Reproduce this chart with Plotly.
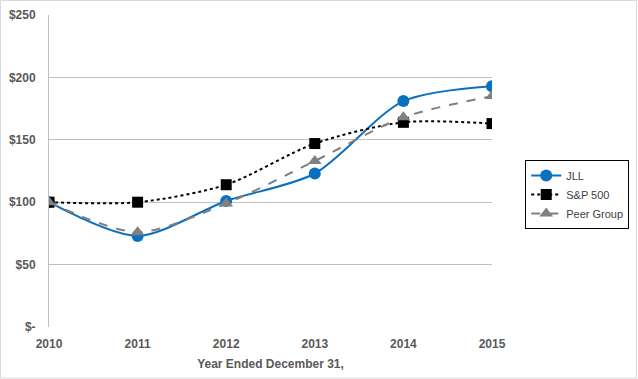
import plotly.graph_objects as go

years = [2010, 2011, 2012, 2013, 2014, 2015]
jll = [100, 73, 101, 123, 181, 193]
sp500 = [100, 100, 114, 147, 164, 163]
peer = [100, 76, 99, 133, 168, 185]
y_ticks = [0, 50, 100, 150, 200, 250]
y_tick_text = ["$-", "$50", "$100", "$150", "$200", "$250"]

font_family = "Liberation Sans, Arial, sans-serif"
txt_color = "#595959"

fig = go.Figure()
fig.add_trace(go.Scatter(x=years, y=jll, name="JLL", mode="lines+markers",
                         line=dict(color="#0A70C0", width=2, shape="spline", smoothing=0.8),
                         marker=dict(symbol="circle", size=12, color="#0A70C0")))
fig.add_trace(go.Scatter(x=years, y=sp500, name="S&P 500", mode="lines+markers",
                         line=dict(color="black", width=2, dash="dot", shape="spline", smoothing=0.8),
                         marker=dict(symbol="square", size=11, color="black")))
fig.add_trace(go.Scatter(x=years, y=peer, name="Peer Group", mode="lines+markers",
                         line=dict(color="#808080", width=2, dash="dash", shape="spline", smoothing=0.8),
                         marker=dict(symbol="triangle-up", size=12, color="#808080")))

fig.update_layout(
    width=638, height=379,
    margin=dict(l=49, r=146, t=15, b=52, autoexpand=False),
    paper_bgcolor="white", plot_bgcolor="white",
    font=dict(family=font_family, size=12, color=txt_color),
    xaxis=dict(range=[2010, 2015], tickvals=years, ticktext=["<b>%d</b>" % y for y in years],
               showgrid=False, zeroline=False, showline=False, automargin=False,
               ticks="outside", ticklen=6, tickcolor="rgba(0,0,0,0)",
               tickfont=dict(size=12, color=txt_color, family=font_family),
               title=dict(text="<b>Year Ended December 31,</b>", font=dict(size=12, color=txt_color), standoff=9)),
    yaxis=dict(range=[0, 250], tickvals=y_ticks, ticktext=["<b>" + t + "</b>" for t in y_tick_text],
               showgrid=True, gridcolor="#C0C0C0", gridwidth=1, zeroline=False, automargin=False,
               showline=True, linecolor="#C0C0C0", linewidth=1,
               ticks="outside", ticklen=10, tickcolor="rgba(0,0,0,0)",
               tickfont=dict(size=12, color=txt_color, family=font_family)),
    legend=dict(x=1.075, y=0.535, xanchor="left", yanchor="top",
                bordercolor="black", borderwidth=1, bgcolor="white",
                font=dict(size=11, color="#404040", family=font_family),
                itemwidth=30, tracegroupgap=2),
    showlegend=True,
)
fig.add_shape(type="rect", xref="paper", yref="paper",
              x0=-48.5/443, x1=(443+144.5)/443, y0=-51/312, y1=(312+14.5)/312,
              line=dict(color="#D9D9D9", width=1), layer="below")
fig.write_html("out.html", config={"displayModeBar": False},
               post_script="document.body.style.margin='0px';")
